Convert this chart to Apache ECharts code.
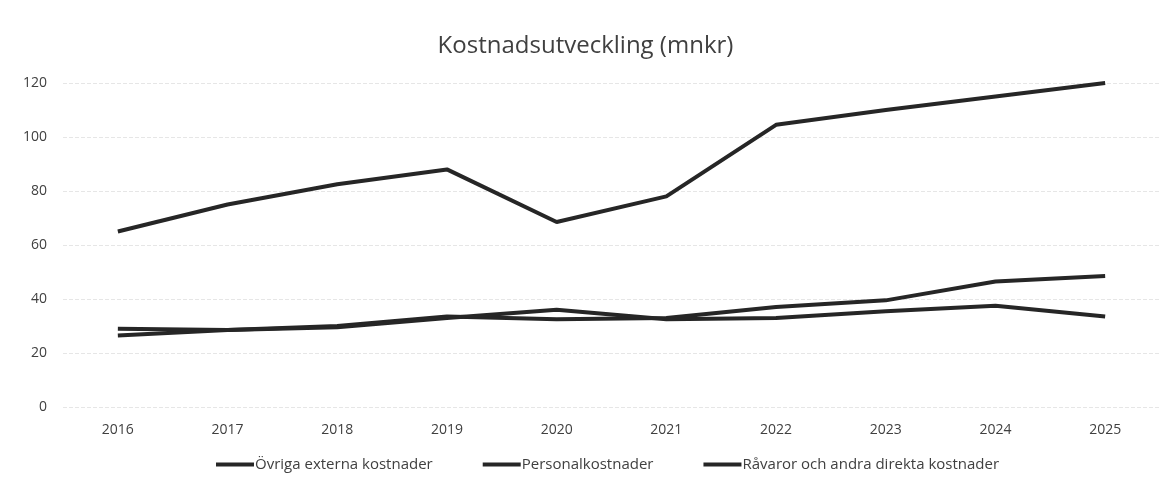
<!DOCTYPE html>
<html>
<head>
<meta charset="utf-8">
<script src="https://cdn.jsdelivr.net/npm/echarts@6/dist/echarts.min.js"></script>
<style>
  html, body { margin: 0; padding: 0; background: #fff; }
  #chart { width: 1171px; height: 486px; }
</style>
</head>
<body>
<div id="chart"></div>
<script>
var years = ['2016', '2017', '2018', '2019', '2020', '2021', '2022', '2023', '2024', '2025'];
var ovrigaExterna = [65, 75, 82.5, 88, 68.5, 78, 104.5, 110, 115, 120];
var personal = [26.5, 28.5, 30, 33.5, 32.5, 33, 37, 39.5, 46.5, 48.5];
var ravaror = [29, 28.5, 29.5, 33, 36, 32.5, 33, 35.5, 37.5, 33.5];
var yTicks = [0, 20, 40, 60, 80, 100, 120];

function lineSeries(name, data) {
    return {
        name: name,
        type: 'line',
        data: data,
        symbol: 'none',
        lineStyle: { color: '#262626', width: 4 },
        itemStyle: { color: '#262626' }
    };
}

echarts.init(document.querySelector("#chart")).setOption({
    animation: false,
    textStyle: { fontFamily: 'Open Sans' },
    title: {
        text: 'Kostnadsutveckling (mnkr)',
        left: 'center',
        top: 29,
        textStyle: { fontSize: 24, fontWeight: 'normal', color: '#404040', fontFamily: 'Open Sans' }
    },
    legend: {
        bottom: 9,
        left: 211,
        icon: 'rect',
        itemWidth: 38,
        itemHeight: 4,
        itemGap: 50,
        textStyle: { fontSize: 15, color: '#404040', fontFamily: 'Open Sans', padding: [0, 0, 0, -4] }
    },
    grid: {
        left: 63,
        right: 11,
        top: 83,
        bottom: 79
    },
    xAxis: {
        type: 'category',
        data: years,
        boundaryGap: true,
        axisLine: { show: false },
        axisTick: { show: false },
        axisLabel: { fontSize: 14, color: '#404040', margin: 16 }
    },
    yAxis: {
        type: 'value',
        min: yTicks[0],
        max: yTicks[yTicks.length - 1],
        interval: 20,
        axisLine: { show: false },
        axisTick: { show: false },
        axisLabel: { fontSize: 14, color: '#404040', margin: 16 },
        splitLine: { lineStyle: { color: '#e6e6e6', width: 1, type: 'dashed' } }
    },
    series: [
        lineSeries('Övriga externa kostnader', ovrigaExterna),
        lineSeries('Personalkostnader', personal),
        lineSeries('Råvaror och andra direkta kostnader', ravaror)
    ]
});
</script>
</body>
</html>
